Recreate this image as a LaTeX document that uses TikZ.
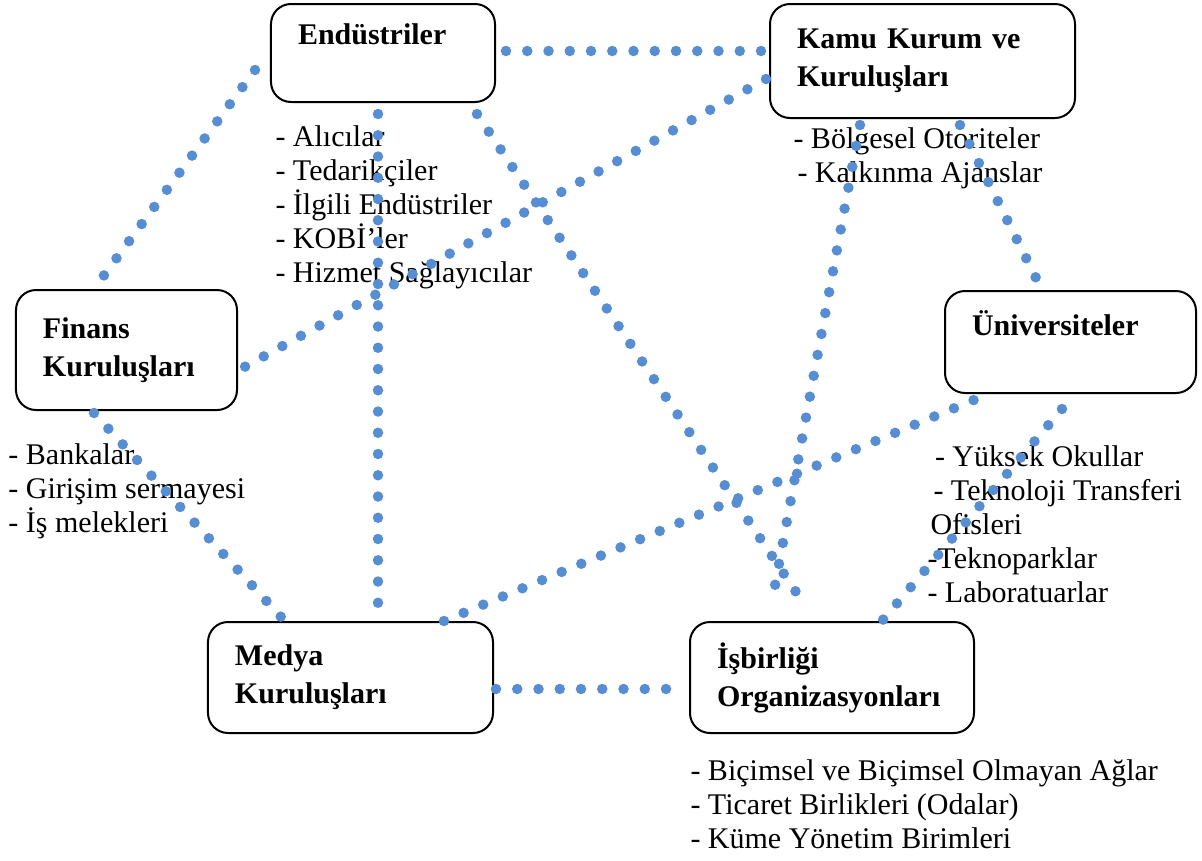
\documentclass[tikz,border=0pt]{standalone}
\usepackage{fontspec}
\setmainfont{Liberation Serif}
\definecolor{linkblue}{RGB}{85,142,213}
\begin{document}
\begin{tikzpicture}[x=0.4pt,y=-0.4pt,
  box/.style={draw,line width=0.8pt,rounded corners=8pt,align=left,
    inner xsep=10.8pt,inner ysep=0pt,font=\bfseries\fontsize{12}{15.2}\selectfont},
  list/.style={anchor=base west,align=left,inner sep=0pt,font=\fontsize{12}{13.6}\selectfont},
  link/.style={linkblue,line width=4.2pt,line cap=round,dash pattern=on 0pt off 8.5pt}]
  \useasboundingbox (0,0) rectangle (1202,861);
  % actors
  \node[box,text width=68pt,minimum height=39.2pt] (endu) at (383,53) {Endüstriler\\ \mbox{}};
  \node[box,text width=100.4pt,minimum height=45.6pt] (kamu) at (922.5,61) {Kamu Kurum ve\\Kuruluşları};
  \node[box,text width=66.8pt,minimum height=48pt] (finans) at (126.5,350) {Finans\\Kuruluşları};
  \node[box,text width=78.8pt,minimum height=40.8pt] (univ) at (1070.5,342) {Üniversiteler\\ \mbox{}};
  \node[box,text width=92.4pt,minimum height=44.4pt] (medya) at (350.5,677.5) {Medya\\Kuruluşları};
  \node[box,text width=92pt,minimum height=44.4pt] (isb) at (832,677.5) {İşbirliği\\Organizasyonları};
  % lists (placed at the baseline of their last line)
  \node[list] (endulist) at (275,282) {- Alıcılar\\- Tedarikçiler\\- İlgili Endüstriler\\- KOBİ’ler\\- Hizmet Sağlayıcılar};
  \node[list] (kamulist) at (793,182) {- Bölgesel Otoriteler\\\hspace{1.6pt}- Kalkınma Ajanslar};
  \node[list] (finanslist) at (8,532) {- Bankalar\\- Girişim sermayesi\\- İş melekleri};
  \node[list] (univlist) at (927,602) {\hspace{3pt}- Yüksek Okullar\\\hspace{2.4pt}- Teknoloji Transferi\\\hspace{1.2pt}Ofisleri\\-Teknoparklar\\- Laboratuarlar};
  \node[list] (isblist) at (690,848) {- Biçimsel ve Biçimsel Olmayan Ağlar\\- Ticaret Birlikleri (Odalar)\\- Küme Yönetim Birimleri};
  % links
  \draw[link] ([shift={(-15,17)}]endu.west) -- ([shift={(-24.5,-11)}]finans.north);
  \draw[link] ([shift={(10,-2)}]endu.east) -- ([shift={(-7,-10)}]kamu.west);
  \draw[link] ([shift={(-5,11)}]endu.south) -- ([shift={(27.5,-11)}]medya.north);
  \draw[link] ([shift={(-19,11)}]endu.south east) -- ([shift={(-32,-23)}]isb.north);
  \draw[link] ([shift={(-3,18)}]kamu.west) -- ([shift={(1,20)}]finans.east);
  \draw[link] ([shift={(-62.5,6)}]kamu.south) -- ([shift={(-58,-30)}]isb.north);
  \draw[link] ([shift={(37.5,6)}]kamu.south) -- ([shift={(-34.5,-12)}]univ.north);
  \draw[link] ([shift={(-32.5,2)}]finans.south) -- ([shift={(-68.5,-3)}]medya.north);
  \draw[link] ([shift={(-50,0)}]medya.north east) -- ([shift={(37,3)}]univ.south west);
  \draw[link] ([shift={(2,11.5)}]medya.east) -- ([shift={(-20,11.5)}]isb.west);
  \draw[link] ([shift={(-8.5,15)}]univ.south) -- ([shift={(50,0)}]isb.north);
\end{tikzpicture}
\end{document}
